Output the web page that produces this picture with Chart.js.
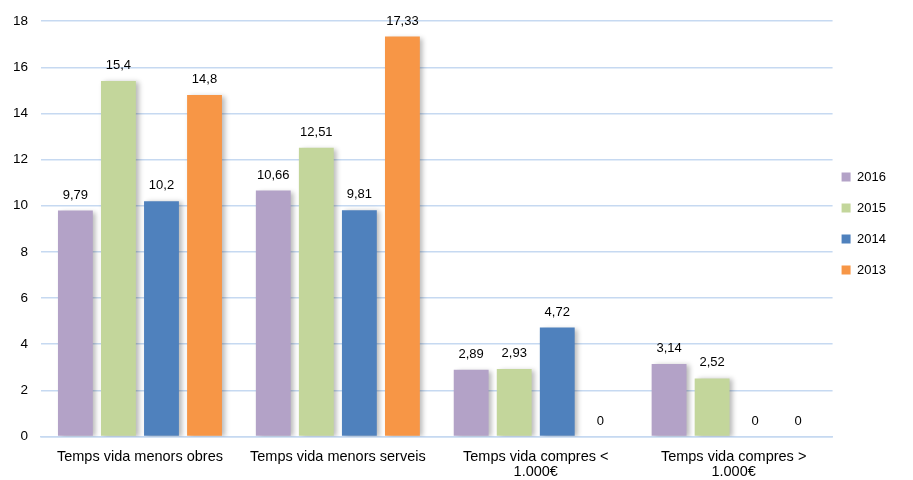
<!DOCTYPE html>
<html>
<head>
<meta charset="utf-8">
<script src="https://cdn.jsdelivr.net/npm/chart.js@4/dist/chart.umd.min.js"></script>
<style>
  html, body { margin: 0; padding: 0; background: #fff; }
  #wrap { width: 913px; height: 480px; }
</style>
</head>
<body>
<div id="wrap"><canvas id="chart"></canvas></div>
<script>
var categories = [
    "Temps vida menors obres",
    "Temps vida menors serveis",
    ["Temps vida compres <", "1.000€"],
    ["Temps vida compres >", "1.000€"]
];
var years = ["2016", "2015", "2014", "2013"];
var values2016 = [9.79, 10.66, 2.89, 3.14];
var values2015 = [15.4, 12.51, 2.93, 2.52];
var values2014 = [10.2, 9.81, 4.72, 0];
var values2013 = [14.8, 17.33, 0, 0];
var colors = ["#b3a2c7", "#c3d69b", "#4f81bd", "#f79646"];
var fontFamily = "'Liberation Sans', Arial, sans-serif";

// sombra suau a les barres
var barShadow = {
    id: 'barShadow',
    beforeDatasetsDraw: function(chart) {
        var ctx = chart.ctx;
        ctx.save();
        ctx.shadowColor = 'rgba(0,0,0,0.28)';
        ctx.shadowBlur = 5;
        ctx.shadowOffsetX = 3;
        ctx.shadowOffsetY = 1;
    },
    afterDatasetsDraw: function(chart) {
        chart.ctx.restore();
    }
};

// etiquetes de valor sobre cada barra
var valueLabels = {
    id: 'valueLabels',
    afterDatasetsDraw: function(chart) {
        var ctx = chart.ctx;
        ctx.save();
        ctx.font = "13px " + fontFamily;
        ctx.fillStyle = "#000";
        ctx.textAlign = "center";
        ctx.textBaseline = "bottom";
        chart.data.datasets.forEach(function(ds, i) {
            var meta = chart.getDatasetMeta(i);
            meta.data.forEach(function(bar, j) {
                var txt = String(ds.data[j]).replace('.', ',');
                ctx.fillText(txt, bar.x, bar.y - 9);
            });
        });
        ctx.restore();
    }
};

// la llegenda una mica més amunt i a l'esquerra, com a l'original
var legendNudge = {
    id: 'legendNudge',
    afterLayout: function(chart) {
        var lg = chart.legend;
        lg.top -= 29;
        lg.bottom -= 29;
        lg.left -= 9;
        lg.right -= 9;
    }
};

var allValues = [values2016, values2015, values2014, values2013];
var datasets = years.map(function(y, i) {
    return {
        label: y,
        data: allValues[i],
        backgroundColor: colors[i],
        borderWidth: 0,
        categoryPercentage: 0.87,
        barPercentage: 0.81
    };
});

new Chart(document.getElementById('chart'), {
    type: 'bar',
    data: { labels: categories, datasets: datasets },
    plugins: [barShadow, valueLabels, legendNudge],
    options: {
        responsive: true,
        maintainAspectRatio: false,
        animation: false,
        layout: { padding: { top: 12, left: 0, right: 8, bottom: -13 } },
        plugins: {
            legend: {
                position: 'right',
                labels: {
                    boxWidth: 9,
                    boxHeight: 9,
                    padding: 18,
                    color: '#000',
                    font: { size: 13, family: fontFamily }
                }
            },
            tooltip: { enabled: false }
        },
        scales: {
            x: {
                grid: { display: false, drawTicks: false },
                border: { color: '#c6d9f1', width: 1.5 },
                ticks: {
                    color: '#000',
                    padding: 13,
                    maxRotation: 0,
                    font: { size: 14.5, family: fontFamily, lineHeight: 1.05 }
                }
            },
            y: {
                min: 0,
                max: 18,
                border: { display: false },
                grid: { color: '#c6d9f1', lineWidth: 1.5, drawTicks: false },
                ticks: {
                    stepSize: 2,
                    color: '#000',
                    padding: 13,
                    font: { size: 13.5, family: fontFamily }
                }
            }
        }
    }
});
</script>
</body>
</html>
